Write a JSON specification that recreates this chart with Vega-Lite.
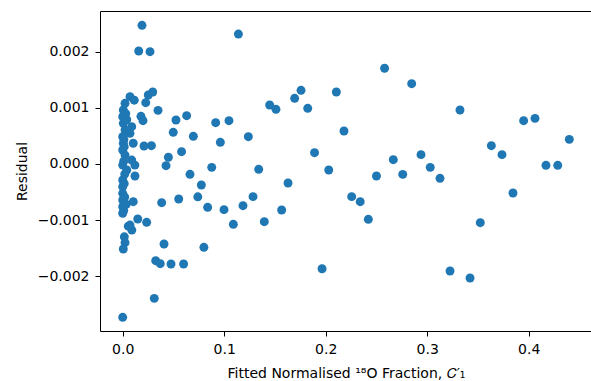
{
  "$schema": "https://vega.github.io/schema/vega-lite/v6.json",
  "autosize": "none",
  "padding": {"left": 100, "top": 11, "right": 0, "bottom": 50},
  "width": 492,
  "height": 320,
  "background": "white",
  "config": {
    "view": {"stroke": "#000000", "strokeWidth": 1},
    "axis": {
      "grid": false,
      "domain": false,
      "tickColor": "#000000",
      "tickSize": 5,
      "tickWidth": 1,
      "labelColor": "#000000",
      "labelFont": "DejaVu Sans",
      "labelFontSize": 14,
      "labelPadding": 6,
      "titleFont": "DejaVu Sans",
      "titleFontSize": 14,
      "titleFontWeight": "normal",
      "titleColor": "#000000"
    }
  },
  "data": {
    "values": [
      {"x": 0.114, "y": 0.00232}, {"x": 0.258, "y": 0.00171}, {"x": 0.1757, "y": 0.001316},
      {"x": 0.2105, "y": 0.001286}, {"x": 0.1694, "y": 0.001173}, {"x": 0.1448, "y": 0.001054},
      {"x": 0.151, "y": 0.000976}, {"x": 0.1823, "y": 0.000994}, {"x": 0.0916, "y": 0.000738},
      {"x": 0.1047, "y": 0.000774}, {"x": 0.0962, "y": 0.000387}, {"x": 0.1238, "y": 0.000488},
      {"x": 0.218, "y": 0.000589}, {"x": 0.189, "y": 0.000202}, {"x": 0.2666, "y": 0.000077},
      {"x": 0.0877, "y": -0.00006}, {"x": 0.134, "y": -0.000095}, {"x": 0.203, "y": -0.000107},
      {"x": 0.0775, "y": -0.000375}, {"x": 0.1629, "y": -0.000339}, {"x": 0.25, "y": -0.000214},
      {"x": 0.2759, "y": -0.000185}, {"x": 0.0837, "y": -0.000774}, {"x": 0.0998, "y": -0.000815},
      {"x": 0.1185, "y": -0.000744}, {"x": 0.1284, "y": -0.000583}, {"x": 0.109, "y": -0.001077},
      {"x": 0.1395, "y": -0.00103}, {"x": 0.1566, "y": -0.000821}, {"x": 0.2256, "y": -0.000583},
      {"x": 0.234, "y": -0.000673}, {"x": 0.242, "y": -0.000988}, {"x": 0.08, "y": -0.001488},
      {"x": 0.1964, "y": -0.00187}, {"x": 0.2847, "y": 0.001434}, {"x": 0.3323, "y": 0.000964},
      {"x": 0.395, "y": 0.000774}, {"x": 0.4062, "y": 0.000815}, {"x": 0.44, "y": 0.00044},
      {"x": 0.3632, "y": 0.000327}, {"x": 0.3737, "y": 0.000167}, {"x": 0.2939, "y": 0.000167},
      {"x": 0.303, "y": -0.00006}, {"x": 0.417, "y": -0.000024}, {"x": 0.4286, "y": -0.000024},
      {"x": 0.3126, "y": -0.000256}, {"x": 0.3845, "y": -0.000518}, {"x": 0.3523, "y": -0.001048},
      {"x": 0.3225, "y": -0.00191}, {"x": 0.3422, "y": -0.002036},
      {"x": 0.019, "y": 0.002476}, {"x": 0.0158, "y": 0.002018}, {"x": 0.0269, "y": 0.002006},
      {"x": 0.0296, "y": 0.001286}, {"x": 0.0252, "y": 0.001232}, {"x": 0.0072, "y": 0.001202},
      {"x": 0.0114, "y": 0.00114}, {"x": 0.0227, "y": 0.001095}, {"x": 0.0023, "y": 0.001084},
      {"x": 0.0348, "y": 0.000958}, {"x": 0.063, "y": 0.000863}, {"x": 0.0525, "y": 0.000786},
      {"x": 0.018, "y": 0.000851}, {"x": 0.02, "y": 0.000774}, {"x": 0.0498, "y": 0.000566},
      {"x": 0.0696, "y": 0.000494}, {"x": 0.058, "y": 0.00022}, {"x": 0.045, "y": 0.00012},
      {"x": 0.0427, "y": -0.00003}, {"x": 0.0663, "y": -0.000184}, {"x": 0.021, "y": 0.000321},
      {"x": 0.0283, "y": 0.000327}, {"x": 0.0384, "y": -0.000691}, {"x": 0.0552, "y": -0.000625},
      {"x": 0.074, "y": -0.000586}, {"x": 0.0121, "y": -0.000214}, {"x": 0.0104, "y": -0.000673},
      {"x": 0.0055, "y": -0.00111}, {"x": 0.0148, "y": -0.000982}, {"x": 0.0236, "y": -0.001041},
      {"x": 0.0016, "y": -0.0013}, {"x": 0.0023, "y": -0.001405}, {"x": 0.0006, "y": -0.001518},
      {"x": 0.0407, "y": -0.001429}, {"x": 0.0325, "y": -0.001726}, {"x": 0.037, "y": -0.00178},
      {"x": 0.0476, "y": -0.001786}, {"x": 0.06, "y": -0.001786}, {"x": 0.0311, "y": -0.002399},
      {"x": 0.0, "y": -0.002738}, {"x": 0.009, "y": -0.00118},
      {"x": 0.0006, "y": 0.000964}, {"x": 0.0, "y": 0.000845}, {"x": 0.0006, "y": 0.000726},
      {"x": 0.0023, "y": 0.000607}, {"x": 0.0072, "y": 0.000548}, {"x": 0.0, "y": 0.000488},
      {"x": 0.0006, "y": 0.00037}, {"x": 0.0104, "y": 0.00037}, {"x": 0.0, "y": 0.00025},
      {"x": 0.0023, "y": 0.00016}, {"x": 0.0089, "y": 0.00007}, {"x": 0.0, "y": -0.00002},
      {"x": 0.004, "y": -0.000107}, {"x": 0.0, "y": -0.000286}, {"x": 0.0, "y": -0.000405},
      {"x": 0.0, "y": -0.000524}, {"x": 0.0, "y": -0.000643}, {"x": 0.0, "y": -0.000762},
      {"x": 0.0, "y": -0.00088}, {"x": 0.0072, "y": -0.00109}, {"x": 0.0089, "y": 0.000667},
      {"x": 0.0012, "y": 0.000435}, {"x": 0.012, "y": -0.00002}, {"x": 0.003, "y": 0.0009},
      {"x": 0.0015, "y": 0.00031}, {"x": 0.001, "y": 0.00005}, {"x": 0.002, "y": -0.00018},
      {"x": 0.0015, "y": -0.00035}, {"x": 0.002, "y": -0.00059}, {"x": 0.001, "y": -0.00083},
      {"x": 0.004, "y": 0.00079}, {"x": 0.0035, "y": -0.00072}
    ]
  },
  "mark": {"type": "point", "filled": true, "opacity": 1, "color": "#1f77b4", "size": 80, "shape": "circle"},
  "encoding": {
    "x": {
      "field": "x",
      "type": "quantitative",
      "scale": {"domain": [-0.02236, 0.46236], "nice": false, "zero": false},
      "axis": {
        "values": [0, 0.1, 0.2, 0.3, 0.4],
        "format": ".1f",
        "title": "Fitted Normalised ¹⁸O Fraction, 𝐶′₁",
        "titleBaseline": "alphabetic",
        "titleY": 46
      }
    },
    "y": {
      "field": "y",
      "type": "quantitative",
      "scale": {"domain": [-0.002982, 0.002732], "nice": false, "zero": false},
      "axis": {
        "values": [-0.002, -0.001, 0, 0.001, 0.002],
        "format": ".3f",
        "title": "Residual",
        "titleX": -78,
        "titleY": 160,
        "titleAngle": 270,
        "titleAlign": "center",
        "titleBaseline": "middle"
      }
    }
  }
}
